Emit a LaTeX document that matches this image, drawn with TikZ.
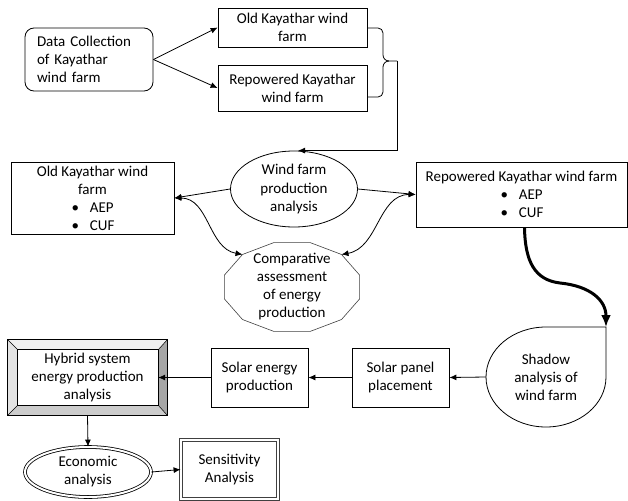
\documentclass[tikz,border=0pt]{standalone}
\usepackage{fontspec}
\setmainfont{Carlito}
\usepackage{tikz}
\usetikzlibrary{positioning}
\usetikzlibrary{calc}
\usetikzlibrary{arrows.meta}
\usetikzlibrary{shapes.geometric}
\newcommand{\bitem}[1]{\makebox[42pt][l]{\textbullet\hspace{11pt}#1}}
\tikzset{
    x=1pt, y=1pt,
    >={Latex[length=7pt,width=6pt]},
    every node/.style={font=\fontsize{15}{18}\selectfont, align=center, inner sep=0pt},
    line/.style={line width=0.8pt},
    extra thick/.style={line width=3pt},
    plain box/.style={draw, line width=0.8pt, rectangle},
    round box/.style={plain box, rounded corners=9pt},
    oval node/.style={draw, line width=0.8pt, ellipse},
    double oval/.style={oval node, double, double distance=2pt},
    double box/.style={plain box, draw=black!75, double, double distance=2.5pt}
}
\begin{document}
\begin{tikzpicture}
    \useasboundingbox (0,0) rectangle (628,-500);
    % wind farm data
    \node (dc) [round box, minimum width=128pt, minimum height=63pt, text width=104pt, align=left] at (89,-59.5) {Data Collection\\of Kayathar\\wind farm};
    \node (oldtop) [plain box, minimum width=149pt, minimum height=39pt] at (292.5,-27.5) {Old Kayathar wind\\farm};
    \node (reptop) [plain box, minimum width=149pt, minimum height=46pt] at (292.5,-88) {Repowered Kayathar\\wind farm};
    \node (wind) [oval node, minimum width=127pt, minimum height=76pt] at (294,-189) {Wind farm\\production\\analysis};
    \node (oldbox) [plain box, minimum width=163pt, minimum height=72pt] at (92.5,-198) {Old Kayathar wind\\farm\\\bitem{AEP}\\\bitem{CUF}};
    \node (repbox) [plain box, minimum width=211pt, minimum height=65pt] at (521.5,-194.5) {Repowered Kayathar wind farm\\\bitem{AEP}\\\bitem{CUF}};
    \node (cmp) at (292,-287) {Comparative\\assessment\\of energy\\production};
    \foreach \a in {15,45,...,345} \coordinate (cmp-\a) at ($(cmp)+(\a:70pt and 46pt)$);
    \draw[line width=0.6pt, draw=black!75] (cmp-15) \foreach \a in {45,75,...,345} {-- (cmp-\a)} -- cycle;
    % solar part
    \node (shad) at (546,-377) {Shadow\\analysis of\\wind farm};
    \coordinate (tdc) at ($(shad)+(60pt,50pt)$);
    \coordinate (shadw) at ($(shad)+(-60pt,0pt)$);
    \draw[line] ($(shad)+(0pt,50pt)$) -- (tdc) -- ++(0,-50) arc[start angle=0, end angle=-270, x radius=60pt, y radius=50pt] -- cycle;
    \node (spp) [plain box, minimum width=97pt, minimum height=59pt] at (400.5,-377.5) {Solar panel\\placement};
    \node (sep) [plain box, minimum width=97pt, minimum height=59pt] at (259.5,-377.5) {Solar energy\\production};
    \node (hyb) [minimum width=159pt, minimum height=75pt] at (87.5,-377.5) {Hybrid system\\energy production\\analysis};
    \coordinate (hi1) at ([shift={(10pt,-10pt)}]hyb.north west);
    \coordinate (hi2) at ([shift={(-9pt,-10pt)}]hyb.north east);
    \coordinate (hi3) at ([shift={(-9pt,10pt)}]hyb.south east);
    \coordinate (hi4) at ([shift={(10pt,10pt)}]hyb.south west);
    \fill[gray!12] (hyb.north west) -- (hyb.north east) -- (hi2) -- (hi1) -- cycle;
    \fill[gray!22] (hyb.north west) -- (hi1) -- (hi4) -- (hyb.south west) -- cycle;
    \fill[gray!40] (hyb.south west) -- (hi4) -- (hi3) -- (hyb.south east) -- cycle;
    \fill[gray!70] (hyb.north east) -- (hi2) -- (hi3) -- (hyb.south east) -- cycle;
    \draw[line] (hyb.north west) rectangle (hyb.south east);
    \draw[line] (hi1) rectangle (hi3);
    \draw[line width=0.5pt] (hyb.north west) -- (hi1) (hyb.north east) -- (hi2) (hyb.south east) -- (hi3) (hyb.south west) -- (hi4);
    \node (econ) [double oval, minimum width=126pt, minimum height=50pt] at (88,-472) {Economic\\analysis};
    \node (sens) [double box, minimum width=97pt, minimum height=59pt] at (229.5,-469.5) {Sensitivity\\Analysis};
    % connectors
    \draw[line,->] (dc.east) -- (oldtop.west);
    \draw[line,->] (dc.east) -- (reptop.west);
    \coordinate (bt) at (397,-61);
    \draw[line] (367,-28) -- (378,-28) to[out=0,in=90] (383,-33) -- (383,-55) to[out=-90,in=180] (389,-61) -- (bt);
    \draw[line] (367,-97) -- (378,-97) to[out=0,in=-90] (383,-92) -- (383,-67) to[out=90,in=180] (389,-61);
    \draw[line,->] (bt) |- ([xshift=4pt]wind.north);
    \draw[line,->] (wind.west) -- (oldbox.east);
    \draw[line,->] (wind.east) -- (repbox.west);
    \draw[line,<->] (oldbox.east) to[out=0,in=170] (cmp-135);
    \draw[line,<->] (repbox.west) to[out=180,in=10] (cmp-45);
    \coordinate (bend) at (560,-283);
    \draw[extra thick,->,>={Latex[length=12pt,width=10pt]}] ([xshift=3pt]repbox.south) .. controls (525,-262) and (535,-280) .. (bend) .. controls (590,-286) and (606,-300) .. (tdc);
    \draw[line,->] (shadw) -- (spp.east);
    \draw[line,->] (spp.west) -- (sep.east);
    \draw[line,->] (sep.west) -- (sep.west -| hi3);
    \draw[line,->] (hyb.south) -- (econ.north);
    \draw[line,->] (econ.east) -- (sens.west);
\end{tikzpicture}
\end{document}
